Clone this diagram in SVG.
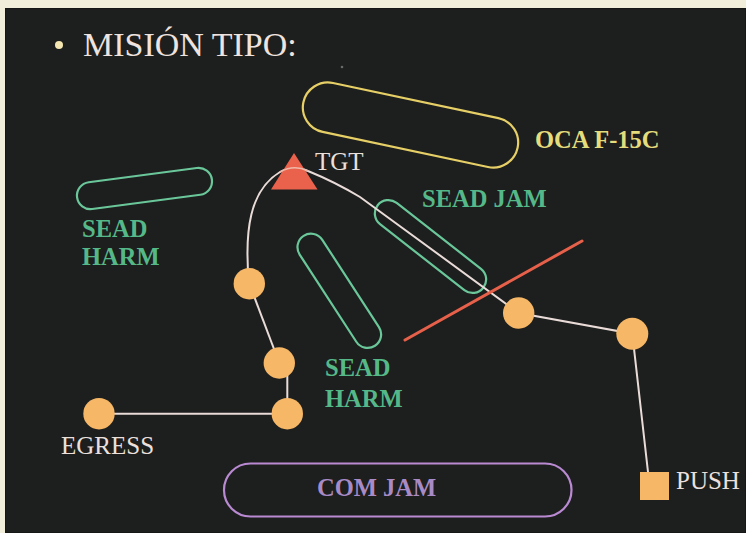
<svg xmlns="http://www.w3.org/2000/svg" width="746" height="533" viewBox="0 0 746 533">
<defs>
<style>
.lbl{font-family:"Liberation Serif","Times New Roman",serif;font-weight:bold;font-size:24.5px}
.grn{fill:#55b888}
.txt{font-family:"Liberation Serif","Times New Roman",serif;font-size:25px;fill:#ece0dc}
.zone{fill:none;stroke-width:2.2}
.gz{stroke:#6ac79a}
.wp{fill:#f6b766}
.route{fill:none;stroke:#e9dcd8;stroke-width:2}
</style>
</defs>
<rect x="0" y="0" width="746" height="533" fill="#f2eedc"/>
<rect x="5" y="8" width="741" height="525" fill="#1d1e1e"/>
<rect x="5.5" y="8.5" width="740" height="524" fill="none" stroke="#151616" stroke-width="1"/>

<g id="title">
<circle cx="59" cy="45" r="4" fill="#f3e6b0"/>
<text x="83" y="56" font-family="'Liberation Serif','Times New Roman',serif" font-size="34" fill="#efe3df">MISIÓN TIPO:</text>
</g>
<circle cx="342" cy="67" r="1.3" fill="#6a6a6a"/>

<g id="oca-f15c">
<rect x="301" y="100" width="219" height="50" rx="25" class="zone" stroke="#e6cf66" transform="rotate(12 410.5 125)"/>
<text x="535" y="148" class="lbl" fill="#e5dc7c">OCA F-15C</text>
</g>

<g id="sead-harm-1">
<rect x="76.5" y="175" width="136" height="27" rx="13.5" class="zone gz" transform="rotate(-7.5 144.5 188.5)"/>
<text class="lbl grn"><tspan x="82" y="237">SEAD</tspan><tspan x="82" y="265">HARM</tspan></text>
</g>

<g id="sead-harm-2">
<rect x="273.8" y="277.3" width="131" height="27" rx="13.5" class="zone gz" transform="rotate(57 339.3 290.8)"/>
<text class="lbl grn"><tspan x="325" y="376">SEAD</tspan><tspan x="325" y="407">HARM</tspan></text>
</g>

<g id="sead-jam">
<rect x="363.5" y="233" width="134" height="27" rx="13.5" class="zone gz" transform="rotate(38 430.5 246.5)"/>
<text x="422" y="207" class="lbl grn">SEAD JAM</text>
</g>

<g id="com-jam">
<rect x="224" y="463.5" width="347.5" height="53" rx="26.5" class="zone" stroke="#b98ad2" stroke-width="2.6"/>
<text x="317" y="496" class="lbl" fill="#a88bc6">COM JAM</text>
</g>

<g id="connectors">
<path class="route" d="M 249 284 C 244 230 250 190 280 172 Q 294 164 308 171 Q 335 182 360 197 L 518.7 313 L 632.3 333.7 L 648 472"/>
<path class="route" d="M 249.3 283.7 L 279.3 363"/>
<path class="route" d="M 287.3 414 L 287.3 355"/>
<path class="route" d="M 99 413.7 L 287.3 413.7"/>
<line x1="405" y1="340" x2="582" y2="241" stroke="#e6604a" stroke-width="3" stroke-linecap="round"/>
</g>

<g id="tgt">
<polygon points="294,153 271,189.5 317.5,189.5" fill="#ea624c"/>
<path d="M 280 172 Q 294 164 308 171" fill="none" stroke="#f0b8a8" stroke-width="1.6"/>
<text x="315" y="170" class="txt">TGT</text>
</g>

<g id="wp1"><circle cx="249.3" cy="283.7" r="15.7" class="wp"/></g>
<g id="wp2"><circle cx="279.3" cy="363" r="15.7" class="wp"/></g>
<g id="wp3"><circle cx="287.3" cy="413.7" r="15.7" class="wp"/></g>
<g id="egress">
<circle cx="99" cy="413.7" r="15.7" class="wp"/>
<text x="61" y="454" class="txt">EGRESS</text>
</g>
<g id="wp4"><circle cx="518.7" cy="313" r="15.7" class="wp"/></g>
<g id="wp5"><circle cx="632.3" cy="333.7" r="16" class="wp"/></g>
<g id="push">
<rect x="640" y="472" width="29" height="28" class="wp"/>
<text x="676" y="489" class="txt">PUSH</text>
</g>
</svg>
